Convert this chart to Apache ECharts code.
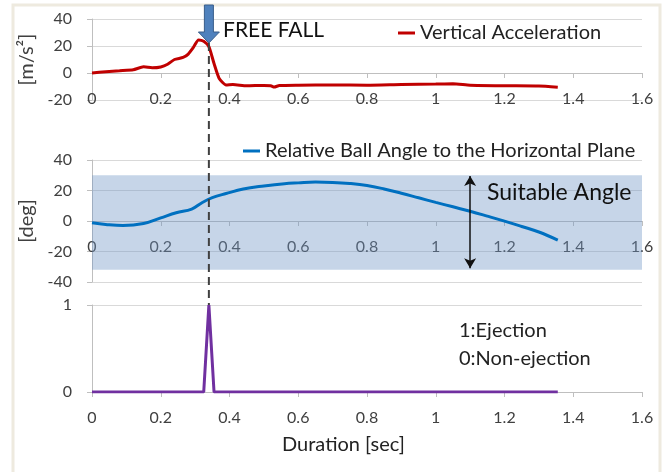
<!DOCTYPE html>
<html>
<head>
<meta charset="utf-8">
<title>Free fall / ball angle</title>
<style>
  html, body { margin: 0; padding: 0; background: #fff; }
  #main { width: 670px; height: 472px; }
</style>
</head>
<body>
<div id="main"></div>
<script src="https://cdn.jsdelivr.net/npm/echarts@6/dist/echarts.min.js"></script>
<script>
// vertical acceleration [m/s2] vs duration [sec]
const accelT = [0, 0.04, 0.08, 0.12, 0.15, 0.175, 0.2, 0.22, 0.24, 0.265, 0.28, 0.295, 0.31, 0.325, 0.34, 0.355, 0.37, 0.39, 0.41, 0.45, 0.5, 0.52, 0.53, 0.545, 0.6, 0.7, 0.8, 0.9, 1.0, 1.05, 1.1, 1.2, 1.3, 1.355];
const accelV = [0, 1, 1.7, 2.4, 4.6, 3.9, 4.5, 6.5, 10, 11.5, 14, 19, 24.5, 23.5, 19.5, 7, -4, -8.8, -8.5, -9.5, -9.2, -9.4, -10.4, -9.3, -9, -8.8, -9, -8.5, -8.2, -8, -9, -9.4, -9.6, -10.5];

// relative ball angle [deg]
const angleT = [0, 0.04, 0.09, 0.15, 0.2, 0.245, 0.29, 0.32, 0.35, 0.39, 0.44, 0.5, 0.56, 0.6, 0.65, 0.7, 0.75, 0.8, 0.85, 0.9, 0.95, 1.0, 1.05, 1.1, 1.15, 1.2, 1.25, 1.3, 1.355];
const angleV = [-1.2, -2.3, -3, -1.7, 2, 5.4, 7.8, 12, 15.3, 18, 21, 23, 24.5, 25, 25.5, 25.3, 24.6, 23.3, 21, 18.2, 15.2, 12.2, 9.3, 6.4, 3.2, -0.1, -3.6, -7.2, -12.5];

// ejection flag
const ejectT = [0, 0.325, 0.34, 0.355, 1.355];
const ejectV = [0, 0, 1, 0, 0];

const suitableBand = [30, -32];   // shaded angle range
const suitableArrowT = 1.1;
const freeFallT = 0.34;

const yRanges = [[-20, 40, 20], [-40, 40, 20], [0, 1, 1]];
const gridBoxes = [{ top: 19, height: 81 }, { top: 160, height: 122 }, { top: 305, height: 87 }];

const FONT = 'Lato, "Noto Sans", sans-serif';
const TXT = '#404040';

const zip = (a, b) => a.map((t, i) => [t, b[i]]);

// x axis sits on y = 0 of its own grid (like excel), labels go with it
function xAxisFor(i) {
    const r = yRanges[i];
    return {
        type: 'value', gridIndex: i, min: 0, max: 1.6, interval: 0.2,
        offset: -gridBoxes[i].height * (0 - r[0]) / (r[1] - r[0]),
        axisLine: { onZero: false, lineStyle: { color: '#bfbfbf', width: 1 } },
        axisTick: { show: true, length: 5, lineStyle: { color: '#bfbfbf' } },
        axisLabel: { color: TXT, fontSize: 16, fontFamily: FONT, margin: 18 },
        splitLine: { show: false }
    };
}

function yAxisFor(i, name) {
    const r = yRanges[i];
    return {
        type: 'value', gridIndex: i, min: r[0], max: r[1], interval: r[2],
        name: name, nameLocation: 'middle', nameGap: 49, nameRotate: 90,
        nameTextStyle: { color: TXT, fontSize: 20, fontFamily: FONT },
        axisLine: { show: true, onZero: false, lineStyle: { color: '#bfbfbf' } },
        axisTick: { show: true, length: 5, lineStyle: { color: '#bfbfbf' } },
        axisLabel: { color: TXT, fontSize: 16, fontFamily: FONT, margin: 20 },
        splitLine: { show: true, lineStyle: { color: '#d9d9d9' } }
    };
}

const chart = echarts.init(document.getElementById('main'));

chart.setOption({
    animation: false,
    grid: gridBoxes.map(g => ({ left: 92, right: 28, top: g.top, height: g.height })),
    xAxis: [xAxisFor(0), xAxisFor(1), xAxisFor(2)],
    yAxis: [yAxisFor(0, '[m/s²]'), yAxisFor(1, '[deg]'), yAxisFor(2, '')],
    legend: [
        {
            data: ['Vertical Acceleration'], left: 398, top: 23, padding: 0,
            icon: 'rect', itemWidth: 17, itemHeight: 3,
            textStyle: { color: '#222', fontSize: 20, fontFamily: FONT }
        },
        {
            data: ['Relative Ball Angle to the Horizontal Plane'], left: 243, top: 141, padding: 0,
            icon: 'rect', itemWidth: 17, itemHeight: 3,
            textStyle: { color: '#222', fontSize: 20, fontFamily: FONT }
        }
    ],
    series: [
        {
            name: 'Vertical Acceleration', type: 'line', xAxisIndex: 0, yAxisIndex: 0,
            data: zip(accelT, accelV), showSymbol: false, smooth: 0.2,
            lineStyle: { color: '#c00000', width: 3 }, itemStyle: { color: '#c00000' }
        },
        {
            name: 'Relative Ball Angle to the Horizontal Plane', type: 'line', xAxisIndex: 1, yAxisIndex: 1,
            data: zip(angleT, angleV), showSymbol: false, smooth: 0.4,
            lineStyle: { color: '#0070c0', width: 3 }, itemStyle: { color: '#0070c0' },
            markArea: {
                silent: true,
                itemStyle: { color: 'rgba(112, 150, 197, 0.4)' },
                data: [[{ xAxis: 0, yAxis: suitableBand[0] }, { xAxis: 1.6, yAxis: suitableBand[1] }]]
            },
            markLine: {
                silent: true, symbol: ['arrow', 'arrow'], symbolSize: [9, 10],
                label: { show: false },
                lineStyle: { color: '#111', width: 1.5, type: 'solid' },
                data: [[{ coord: [suitableArrowT, suitableBand[0] - 0.5] }, { coord: [suitableArrowT, suitableBand[1] + 1] }]]
            }
        },
        {
            name: 'Ejection', type: 'line', xAxisIndex: 2, yAxisIndex: 2,
            data: zip(ejectT, ejectV), showSymbol: false,
            lineStyle: { color: '#7030a0', width: 3 }, itemStyle: { color: '#7030a0' }
        }
    ]
});

// free-fall marker, dashed line and annotations
const fx = chart.convertToPixel({ xAxisIndex: 0 }, freeFallT);
const fyEnd = chart.convertToPixel({ yAxisIndex: 2 }, 1);

chart.setOption({
    graphic: [
        {
            type: 'rect', shape: { x: 13, y: 5, width: 647, height: 480 },
            style: { fill: 'none', stroke: '#eeeadf', lineWidth: 3 }, silent: true
        },
        {
            type: 'line', shape: { x1: fx, y1: 43, x2: fx, y2: fyEnd },
            style: { stroke: '#404040', lineWidth: 2, lineDash: [8, 5] }, z: 10
        },
        {
            type: 'polygon', z: 11,
            shape: {
                points: [[fx - 4.5, 5], [fx + 4.5, 5], [fx + 4.5, 32], [fx + 10.5, 32], [fx, 43], [fx - 10.5, 32], [fx - 4.5, 32]]
            },
            style: { fill: '#4f81bd', stroke: '#385d8a', lineWidth: 1 }
        },
        {
            type: 'text', left: 223, top: 20, z: 11,
            style: { text: 'FREE FALL', fill: '#111', font: '21px ' + FONT }
        },
        {
            type: 'text', left: 487, top: 181, z: 11,
            style: { text: 'Suitable Angle', fill: '#111', font: '23px ' + FONT }
        },
        {
            type: 'text', left: 459, top: 321, z: 11,
            style: { text: '1:Ejection', fill: '#222', font: '20px ' + FONT }
        },
        {
            type: 'text', left: 459, top: 349, z: 11,
            style: { text: '0:Non-ejection', fill: '#222', font: '20px ' + FONT }
        },
        {
            type: 'text', left: 282, top: 435, z: 11,
            style: { text: 'Duration [sec]', fill: '#222', font: '20px ' + FONT }
        }
    ]
});
</script>
</body>
</html>
